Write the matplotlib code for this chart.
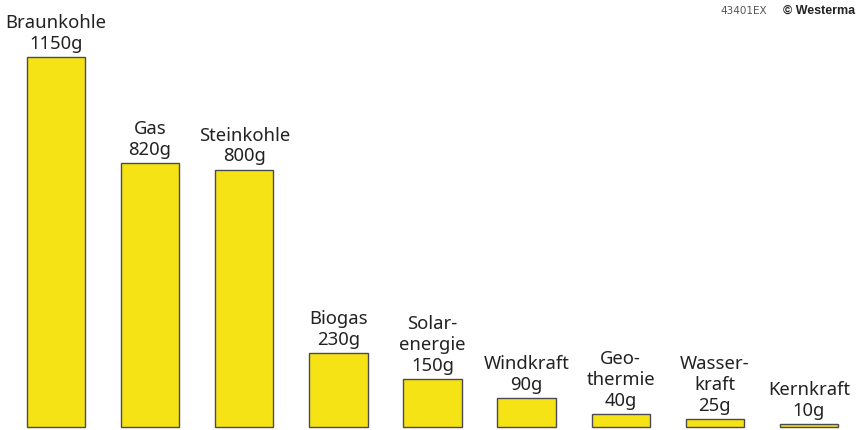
import matplotlib
matplotlib.use('Agg')
import matplotlib.pyplot as plt

# CO2-Ausstoß je kWh nach Energieträger
names = ["Braunkohle", "Gas", "Steinkohle", "Biogas", "Solar-\nenergie",
         "Windkraft", "Geo-\nthermie", "Wasser-\nkraft", "Kernkraft"]
values = [1150, 820, 800, 230, 150, 90, 40, 25, 10]

plt.rcParams['font.family'] = ['Noto Sans', 'DejaVu Sans']

fig = plt.figure(figsize=(8.56, 4.30), dpi=100)
ax = fig.add_axes([0, 0, 1, 1])
x = list(range(len(values)))
ax.bar(x, values, width=0.62, color='#f6e316', edgecolor='#4a4a55', linewidth=1.0)

for xi, name, v in zip(x, names, values):
    ax.annotate(f"{name}\n{v}g", (xi, v), xytext=(0, 3), textcoords='offset points',
                ha='center', va='bottom', fontsize=13.3, color='#222222',
                linespacing=1.2)

ax.set_xlim(-0.595, 8.50)
ax.set_ylim(-9.3, 1327)
ax.axis('off')

# Quellenangabe oben rechts (im Original am Rand abgeschnitten)
fig.text(720 / 856, 1 - 14 / 430, "43401EX", fontsize=7.5, color='#555555',
         family='DejaVu Sans Condensed', ha='left', va='baseline')
fig.text(855 / 856, 1 - 14 / 430, "© Westerma", fontsize=9, fontweight='bold',
         family='Liberation Sans', color='#222222', ha='right', va='baseline')

fig.savefig("out.png", dpi=100)
